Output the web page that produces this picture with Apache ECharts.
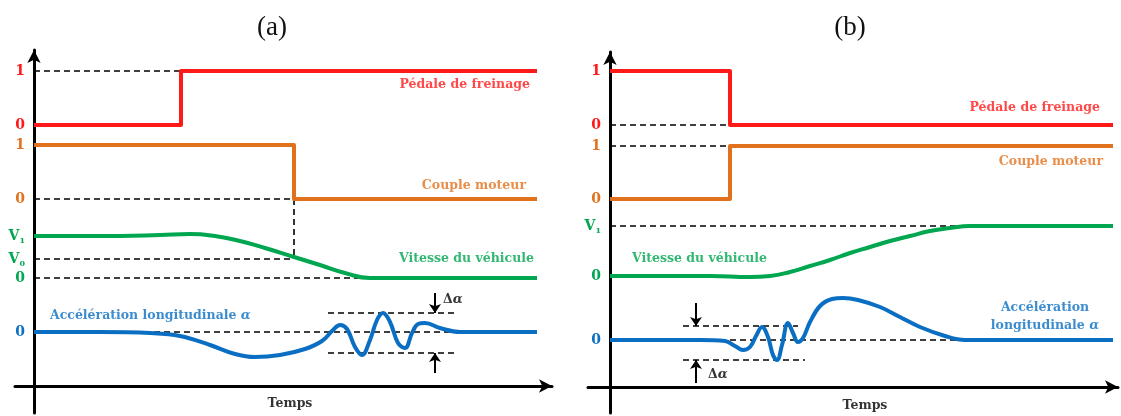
<!DOCTYPE html>
<html>
<head>
<meta charset="utf-8">
<script src="https://cdn.jsdelivr.net/npm/echarts@6/dist/echarts.min.js"></script>
<style>
  html, body { margin: 0; padding: 0; background: #fff; }
  #chart { width: 1121px; height: 416px; }
</style>
</head>
<body>
<div id="chart"></div>
<script>
// ---- panel (a) : freinage ----
const aBrake = [[0, 261], [147, 261], [147, 315], [503, 315]];
const aTorque = [[0, 241], [260, 241], [260, 187], [503, 187]];
const aSpeed = [[0, 150], [86, 150], [126, 151], [156, 152], [181, 150], [206, 145], [231, 138], [260, 129],
    [286, 121], [311, 113], [336, 108], [366, 108], [503, 108]];
const aAccelT = [0, 66, 116, 146, 176, 201, 221, 246, 271, 288, 299, 306, 313, 321, 328, 336, 343, 349, 356, 364, 371, 378, 384, 391, 406, 426, 503];
const aAccelV = [54, 54, 53, 50, 41, 32, 29, 31, 37, 45, 56, 61, 57, 39, 31, 46, 66, 73, 64, 43, 38, 53, 62, 63, 58, 54, 54];
const aDashed = [
    [[0, 315], [147, 315]],
    [[0, 187], [260, 187]],
    [[260, 187], [260, 127]],
    [[0, 127], [260, 127]],
    [[0, 108], [336, 108]],
    [[0, 54], [503, 54]],
    [[294, 73], [423, 73]],
    [[294, 33], [423, 33]]
];
const aArrows = [[[401, 93], [401, 73]], [[401, 13], [401, 33]]];
const aTicks = { 315: '{r|1}', 261: '{r|0}', 241: '{o|1}', 187: '{o|0}', 150: '{g|V}{gs|1}', 127: '{g|V}{gs|0}', 108: '{g|0}', 54: '{b|0}' };

// ---- panel (b) : accélération ----
const bBrake = [[0, 316], [120, 316], [120, 262], [503, 262]];
const bTorque = [[0, 188], [120, 188], [120, 241], [503, 241]];
const bSpeed = [[0, 111], [100, 111], [140, 110], [160, 111], [180, 115], [200, 121], [220, 127], [240, 134], [260, 140],
    [280, 146], [300, 151], [320, 156], [340, 159], [360, 161], [380, 161], [503, 161]];
const bAccelT = [0, 90, 115, 125, 133, 140, 146, 152, 158, 163, 167, 172, 178, 183, 188, 193, 200, 210, 222, 233, 248, 270, 290, 310, 335, 355, 503];
const bAccelV = [47, 47, 46, 41, 37, 40, 51, 60, 50, 32, 27, 42, 64, 54, 45, 49, 65, 81, 88, 89, 87, 80, 70, 60, 51, 47, 47];
const bDashed = [
    [[0, 262], [120, 262]],
    [[0, 241], [120, 241]],
    [[0, 161], [383, 161]],
    [[0, 47], [503, 47]],
    [[73, 61], [188, 61]],
    [[73, 27], [195, 27]]
];
const bArrows = [[[86, 84], [86, 61]], [[86, 4], [86, 27]]];
const bTicks = { 316: '{r|1}', 262: '{r|0}', 241: '{o|1}', 188: '{o|0}', 161: '{g|V}{gs|1}', 111: '{g|0}', 47: '{b|0}' };

const RED = '#ff1a1a', ORANGE = '#e2711d', GREEN = '#00a650', BLUE = '#0a6fc2';
const SERIF = 'DejaVu Serif';

const zip = (t, v) => t.map((x, i) => [x, v[i]]);

function tickRich() {
    const base = { fontFamily: SERIF, fontWeight: 'bold', fontSize: 14 };
    return {
        r: Object.assign({ color: RED }, base),
        o: Object.assign({ color: ORANGE }, base),
        g: Object.assign({ color: GREEN }, base),
        gs: { color: GREEN, fontFamily: SERIF, fontWeight: 'bold', fontSize: 8, padding: [10, 0, 0, 0] },
        b: Object.assign({ color: BLUE }, base)
    };
}

// labels stay at the grid edge even with onZero, so margin is pulled back to the axis
function axes(idx, left, top, width, height, xr, yr, ticks) {
    const offset = -xr[0] * width / (xr[1] - xr[0]);
    return {
        grid: { left: left, top: top, width: width, height: height, containLabel: false, outerBoundsMode: 'none' },
        x: {
            type: 'value', gridIndex: idx, min: xr[0], max: xr[1],
            axisLine: { onZero: true, symbol: ['none', 'arrow'], symbolSize: [10, 13], lineStyle: { color: '#000', width: 3 } },
            axisTick: { show: false }, axisLabel: { show: false }, splitLine: { show: false }
        },
        y: {
            type: 'value', gridIndex: idx, min: yr[0], max: yr[1],
            axisLine: { onZero: true, symbol: ['none', 'arrow'], symbolSize: [10, 13], lineStyle: { color: '#000', width: 3 } },
            axisTick: { show: false }, splitLine: { show: false },
            axisLabel: {
                customValues: Object.keys(ticks).map(Number),
                margin: 9 - offset,
                formatter: v => ticks[v] || '',
                rich: tickRich()
            }
        }
    };
}

function signal(idx, data, color, smooth) {
    return {
        type: 'line', xAxisIndex: idx, yAxisIndex: idx, data: data, smooth: smooth || false,
        showSymbol: false, symbol: 'none', z: 5,
        lineStyle: { color: color, width: 4, join: 'round' }
    };
}

function dashed(idx, segs) {
    return segs.map(s => ({
        type: 'line', xAxisIndex: idx, yAxisIndex: idx, data: s, symbol: 'none', z: 2, silent: true,
        lineStyle: { color: '#000', width: 1.6, type: [6, 4] }
    }));
}

function arrows(idx, list) {
    return {
        type: 'lines', coordinateSystem: 'cartesian2d', xAxisIndex: idx, yAxisIndex: idx, z: 3,
        symbol: ['none', 'arrow'], symbolSize: 9,
        lineStyle: { color: '#000', width: 2, opacity: 1 },
        data: list.map(c => ({ coords: c }))
    };
}

function note(idx, x, y, text, color, align, size, rich) {
    return {
        value: [x, y],
        label: {
            show: true, position: [0, 0], formatter: text, align: align, verticalAlign: 'middle',
            color: color, fontFamily: SERIF, fontWeight: 'bold', fontSize: size || 12.5, lineHeight: 18,
            rich: rich || {}
        }
    };
}

const deltaRich = {
    d: { fontFamily: SERIF, fontWeight: 'bold', fontSize: 12.5, color: '#000' },
    a: { fontFamily: SERIF, fontWeight: 'bold', fontStyle: 'italic', fontSize: 13, color: '#000' }
};
const alphaRich = (c) => ({ a: { fontFamily: SERIF, fontWeight: 'bold', fontStyle: 'italic', fontSize: 13, color: c } });

function notes(idx, items) {
    return { type: 'scatter', xAxisIndex: idx, yAxisIndex: idx, symbolSize: 0, z: 6, silent: true, data: items };
}

const A = axes(0, 15, 50, 537, 363, [-19, 518], [-27, 336], aTicks);
const B = axes(1, 588, 52, 530, 361, [-22, 508], [-26, 335], bTicks);

const chart = echarts.init(document.getElementById('chart'), null, { renderer: 'canvas' });
chart.setOption({
    animation: false,
    backgroundColor: '#fff',
    grid: [A.grid, B.grid],
    xAxis: [A.x, B.x],
    yAxis: [A.y, B.y],
    graphic: [
        { type: 'text', x: 272, y: 28, style: { text: '(a)', font: '27px "Liberation Serif"', fill: '#111', align: 'center', verticalAlign: 'middle' } },
        { type: 'text', x: 850, y: 28, style: { text: '(b)', font: '27px "Liberation Serif"', fill: '#111', align: 'center', verticalAlign: 'middle' } }
    ],
    series: [].concat(
        dashed(0, aDashed),
        dashed(1, bDashed),
        [
            signal(0, aBrake, RED), signal(0, aTorque, ORANGE),
            signal(0, aSpeed, GREEN, 0.5), signal(0, zip(aAccelT, aAccelV), BLUE, 0.4),
            signal(1, bBrake, RED), signal(1, bTorque, ORANGE),
            signal(1, bSpeed, GREEN, 0.5), signal(1, zip(bAccelT, bAccelV), BLUE, 0.4),
            arrows(0, aArrows), arrows(1, bArrows),
            notes(0, [
                note(0, 496, 301, 'Pédale de freinage', RED, 'right'),
                note(0, 492, 200, 'Couple moteur', ORANGE, 'right'),
                note(0, 500, 127, 'Vitesse du véhicule', GREEN, 'right'),
                note(0, 16, 70, 'Accélération longitudinale {a|α}', BLUE, 'left', 12.5, alphaRich(BLUE)),
                note(0, 409, 86, '{d|Δ}{a|α}', '#000', 'left', 12.5, deltaRich),
                note(0, 256, -18, 'Temps', '#000', 'center', 12.5)
            ]),
            notes(1, [
                note(1, 490, 279, 'Pédale de freinage', RED, 'right'),
                note(1, 493, 225, 'Couple moteur', ORANGE, 'right'),
                note(1, 22, 128, 'Vitesse du véhicule', GREEN, 'left'),
                note(1, 435, 70, 'Accélération\nlongitudinale {a|α}', BLUE, 'center', 12.5, alphaRich(BLUE)),
                note(1, 98, 12, '{d|Δ}{a|α}', '#000', 'left', 12.5, deltaRich),
                note(1, 255, -19, 'Temps', '#000', 'center', 12.5)
            ])
        ]
    )
});
</script>
</body>
</html>
